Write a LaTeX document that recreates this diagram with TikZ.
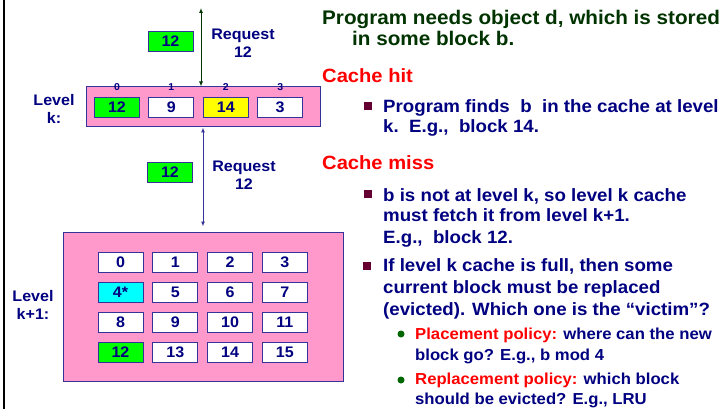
\documentclass[tikz,border=0pt]{standalone}
\usepackage{fontspec}
\setmainfont{Liberation Sans}[FakeStretch=1.05]
\usetikzlibrary{arrows.meta,positioning}
\definecolor{Navy}{HTML}{000080}
\definecolor{Rim}{HTML}{333399}
\definecolor{Pink}{HTML}{FF99CC}
\definecolor{Lime}{HTML}{00FF00}
\definecolor{Lemon}{HTML}{FFFF00}
\definecolor{Aqua}{HTML}{00FFFF}
\definecolor{Forest}{HTML}{003300}
\definecolor{Alarm}{HTML}{FF0000}
\definecolor{Maroon}{HTML}{660033}
\definecolor{Leaf}{HTML}{006600}

\begin{document}
\begin{tikzpicture}[x=1pt,y=-1pt,
    cell/.style={draw=Rim,fill=white,line width=0.9pt,minimum width=45pt,
      minimum height=20pt,inner sep=0pt,text=Navy,font=\fontsize{15.3}{15}\selectfont\bfseries},
    level/.style={draw=Rim,fill=Pink,line width=1pt,inner sep=0pt},
    idx/.style={text=Navy,inner sep=0pt,font=\fontsize{10}{10}\selectfont\bfseries},
    lbl/.style={text=Navy,align=center,inner sep=0pt,font=\fontsize{15.3}{18}\selectfont\bfseries},
    txt/.style={anchor=base west,inner sep=0pt,text=Navy,font=\fontsize{17.8}{18}\selectfont\bfseries},
    head/.style={txt,text=Forest,font=\fontsize{19.7}{20}\selectfont\bfseries},
    topic/.style={txt,text=Alarm,font=\fontsize{19.2}{20}\selectfont\bfseries},
    subtxt/.style={txt,font=\fontsize{15.9}{16}\selectfont\bfseries},
    sq/.style={fill=Maroon,minimum size=7.5pt,inner sep=0pt},
    dot/.style={circle,fill=Leaf,minimum size=7pt,inner sep=0pt},
    hit/.style={Forest,line width=1pt,{Latex[length=5pt,width=4pt]}-{Latex[length=5pt,width=4pt]}},
    fetch/.style={Rim,line width=1pt,{Latex[length=5pt,width=4pt]}-{Latex[length=5pt,width=4pt]}}
  ]
  \useasboundingbox (0,0) rectangle (726,409);
  \draw[line width=2.5pt] (4,0) -- (4,409);

  % level k cache
  \node[level,minimum width=234pt,minimum height=40pt] (lk) at (203,107) {};
  \foreach \v/\f [count=\i from 0] in {12/Lime,9/white,14/Lemon,3/white} {
    \node[cell,fill=\f] (k\i) at (117+54.4*\i,107) {\v};
    \node[idx,above=6pt of k\i] (n\i) {\i};
  }
  \node[lbl] (lvk) at (54,109) {Level\\k:};

  % level k+1 memory
  \node[level,minimum width=280pt,minimum height=149pt] (lk1) at (203,306.5) {};
  \foreach \r in {0,...,3}
    \foreach \c in {0,...,3} {
      \pgfmathtruncatemacro{\b}{4*\r+\c}
      \edef\lab{\b}\def\f{white}
      \ifnum\b=4 \def\lab{4*}\def\f{Aqua}\fi
      \ifnum\b=12 \def\f{Lime}\fi
      \node[cell,fill=\f] (m\b) at (120.5+54.8*\c,262+30*\r) {\lab};
    }
  \node[lbl] (lvk1) at (33,305) {Level\\k+1:};

  % requests
  \coordinate (up) at (201,8);
  \draw[hit] (up) -- (up |- lk.north);
  \node[cell,fill=Lime] (req1) at (170.5,41) {12};
  \node[lbl] (rq1) at (243,43) {Request\\12};
  \draw[fetch,shorten >=5pt] (lk.south) -- (lk1.north);
  \node[cell,fill=Lime] (req2) at (170,172) {12};
  \node[lbl] (rq2) at (244,175) {Request\\12};

  % notes
  \node[head] (h1) at (322,25) {Program needs object d, which is stored};
  \node[head] (h2) at (352,46) {in some block b.};
  \node[topic] (hit) at (322,83) {Cache hit};
  \node[sq] (s1) at (368,106) {};
  \node[txt] (t1) at (383,113) {Program finds\ \ b\ \ in the cache at level};
  \node[txt] (t2) at (383,133) {k.\ \ E.g.,\ \ block 14.};
  \node[topic] (miss) at (322,170) {Cache miss};
  \node[sq] (s2) at (368,194) {};
  \node[txt] (t3) at (383,201) {b is not at level k, so level k cache};
  \node[txt] (t4) at (383,222) {must fetch it from level k+1.};
  \node[txt] (t5) at (383,243) {E.g.,\ \ block 12.};
  \node[sq] (s3) at (367,266) {};
  \node[txt] (t6) at (383,271) {If level k cache is full, then some};
  \node[txt] (t7) at (383,293) {current block must be replaced};
  \node[txt] (t8) at (383,315) {(evicted). Which one is the “victim”?};
  \node[dot] (d1) at (401,334) {};
  \node[subtxt] (u1) at (415,339) {\textcolor{Alarm}{Placement policy:} where can the new};
  \node[subtxt] (u2) at (415,360) {block go? E.g., b mod 4};
  \node[dot] (d2) at (401,380) {};
  \node[subtxt] (u3) at (415,384) {\textcolor{Alarm}{Replacement policy:} which block};
  \node[subtxt] (u4) at (415,404) {should be evicted? E.g., LRU};
\end{tikzpicture}
\end{document}
